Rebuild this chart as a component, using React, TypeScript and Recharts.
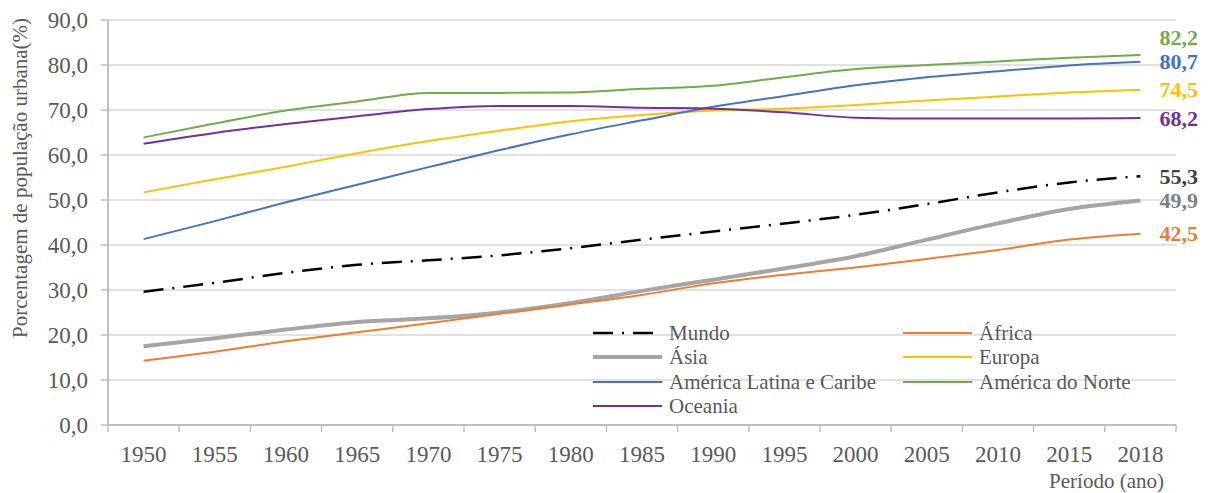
import React from 'react';
import { LineChart, Line, XAxis, YAxis, CartesianGrid, Legend, LabelList } from 'recharts';

const years = ['1950', '1955', '1960', '1965', '1970', '1975', '1980', '1985', '1990', '1995', '2000', '2005', '2010', '2015', '2018'];
const mundo = [29.6, 31.6, 33.8, 35.6, 36.6, 37.7, 39.3, 41.2, 43.0, 44.8, 46.7, 49.1, 51.7, 53.9, 55.3];
const africa = [14.3, 16.3, 18.6, 20.6, 22.6, 24.7, 26.8, 28.9, 31.5, 33.4, 35.0, 36.9, 38.9, 41.2, 42.5];
const asia = [17.5, 19.3, 21.2, 22.9, 23.7, 25.0, 27.1, 29.8, 32.3, 34.8, 37.5, 41.2, 44.8, 48.0, 49.9];
const europa = [51.7, 54.6, 57.4, 60.4, 63.1, 65.4, 67.5, 68.9, 69.9, 70.3, 71.1, 72.1, 73.0, 73.9, 74.5];
const latina = [41.3, 45.3, 49.5, 53.4, 57.3, 61.1, 64.6, 67.7, 70.7, 73.1, 75.5, 77.3, 78.6, 79.9, 80.7];
const norte = [63.9, 67.0, 69.9, 71.9, 73.8, 73.8, 73.9, 74.7, 75.4, 77.3, 79.1, 80.0, 80.8, 81.6, 82.2];
const oceania = [62.5, 64.9, 66.9, 68.6, 70.2, 70.9, 70.9, 70.5, 70.3, 69.5, 68.3, 68.1, 68.1, 68.1, 68.2];
const yTicks = [0, 10, 20, 30, 40, 50, 60, 70, 80, 90];

const data = years.map((year, i) => ({
  i,
  year,
  mundo: mundo[i],
  africa: africa[i],
  asia: asia[i],
  europa: europa[i],
  latina: latina[i],
  norte: norte[i],
  oceania: oceania[i],
}));

const xTicks: number[] = [];
years.forEach((_, i) => {
  xTicks.push(i - 0.5);
  xTicks.push(i);
});
xTicks.push(years.length - 0.5);

const FONT = '"Liberation Serif", "Times New Roman", serif';
const TXT = '#595959';
const AXIS = '#bfbfbf';

type Meta = {
  key: string;
  name: string;
  color: string;
  width: number;
  dash?: string;
  labelColor: string;
  labelDy: number;
};

// legend order (row-major, two columns)
const seriesMeta: Meta[] = [
  { key: 'mundo', name: 'Mundo', color: '#000000', width: 2.5, dash: '20 9 2 9', labelColor: '#404040', labelDy: 0 },
  { key: 'africa', name: 'África', color: '#ed7d31', width: 2, labelColor: '#ed7d31', labelDy: 0 },
  { key: 'asia', name: 'Ásia', color: '#a5a5a5', width: 4, labelColor: '#808080', labelDy: 0 },
  { key: 'europa', name: 'Europa', color: '#ffc000', width: 2, labelColor: '#ffc000', labelDy: 0 },
  { key: 'latina', name: 'América Latina e Caribe', color: '#4472c4', width: 2, labelColor: '#4472c4', labelDy: 0 },
  { key: 'norte', name: 'América do Norte', color: '#70ad47', width: 2, labelColor: '#70ad47', labelDy: -17.5 },
  { key: 'oceania', name: 'Oceania', color: '#7030a0', width: 2, labelColor: '#7030a0', labelDy: 0 },
];

const drawOrder = ['mundo', 'asia', 'africa', 'europa', 'latina', 'norte', 'oceania'];

const fmt = (v: number) => v.toFixed(1).replace('.', ',');

const XTick = (props: any) => {
  const { x, y, payload } = props;
  const v = payload.value;
  if (Number.isInteger(v)) {
    return (
      <text x={x} y={y + 36.5} textAnchor="middle" fill={TXT} fontSize={23} fontFamily={FONT}>
        {years[v]}
      </text>
    );
  }
  return <line x1={x} x2={x} y1={y} y2={y + 7} stroke={AXIS} strokeWidth={1.5} />;
};

const endLabel = (m: Meta) => (p: any) => {
  if (p.index !== years.length - 1) return null;
  return (
    <text
      x={p.x + 19}
      y={p.y + m.labelDy}
      dominantBaseline="central"
      fontWeight="bold"
      fontSize={22}
      fontFamily={FONT}
      fill={m.labelColor}
    >
      {fmt(p.value)}
    </text>
  );
};

const renderLegend = () => (
  <div
    style={{
      display: 'grid',
      gridTemplateColumns: '310px 300px',
      fontFamily: FONT,
      fontSize: 21,
      color: TXT,
    }}
  >
    {seriesMeta.map((m) => (
      <div key={m.key} style={{ display: 'flex', alignItems: 'center', height: 24.3 }}>
        <svg width={69} height={12} style={{ display: 'block' }}>
          <line x1={0} x2={69} y1={6} y2={6} stroke={m.color} strokeWidth={m.width} strokeDasharray={m.dash} />
        </svg>
        <span style={{ marginLeft: 7, lineHeight: '24px', whiteSpace: 'nowrap' }}>{m.name}</span>
      </div>
    ))}
  </div>
);

const YTitle = () => (
  <text
    x={27}
    y={178}
    transform="rotate(-90 27 178)"
    textAnchor="middle"
    fill={TXT}
    fontSize={21}
    fontFamily={FONT}
  >
    Porcentagem de população urbana(%)
  </text>
);

const XTitle = () => (
  <text x={1164} y={488} textAnchor="end" fill={TXT} fontSize={21} fontFamily={FONT}>
    Período (ano)
  </text>
);

export default function App() {
  return (
    <div style={{ position: 'absolute', left: 0, top: 0, width: 1210, height: 493, background: '#fff' }}>
      <LineChart width={1210} height={493} data={data} margin={{ top: 20, right: 34, bottom: 0, left: 0 }}>
        <CartesianGrid vertical={false} stroke="#d9d9d9" strokeWidth={1.3} xAxisId="x" />
        <XAxis
          xAxisId="x"
          dataKey="i"
          type="number"
          domain={[-0.5, years.length - 0.5]}
          ticks={xTicks}
          interval={0}
          tick={<XTick />}
          tickLine={false}
          tickSize={0}
          tickMargin={0}
          height={68}
          axisLine={{ stroke: AXIS, strokeWidth: 2 }}
          label={<XTitle />}
        />
        <YAxis
          domain={[0, 90]}
          ticks={yTicks}
          interval={0}
          width={108}
          tickFormatter={fmt}
          tick={{ fill: TXT, fontSize: 23, fontFamily: FONT }}
          tickLine={{ stroke: AXIS, strokeWidth: 1.5 }}
          tickSize={7}
          tickMargin={13}
          axisLine={{ stroke: AXIS, strokeWidth: 2 }}
          label={<YTitle />}
        />
        <Legend
          layout="horizontal"
          verticalAlign="middle"
          align="center"
          content={renderLegend}
          wrapperStyle={{ position: 'absolute', left: 593, top: 321, width: 620, margin: 0, padding: 0 }}
        />
        {drawOrder.map((k) => {
          const m = seriesMeta.find((s) => s.key === k)!;
          return (
            <Line
              key={k}
              xAxisId="x"
              type="monotone"
              dataKey={k}
              name={m.name}
              stroke={m.color}
              strokeWidth={m.width}
              strokeDasharray={m.dash}
              dot={false}
              activeDot={false}
              isAnimationActive={false}
            >
              <LabelList dataKey={k} content={endLabel(m)} />
            </Line>
          );
        })}
      </LineChart>
    </div>
  );
}
